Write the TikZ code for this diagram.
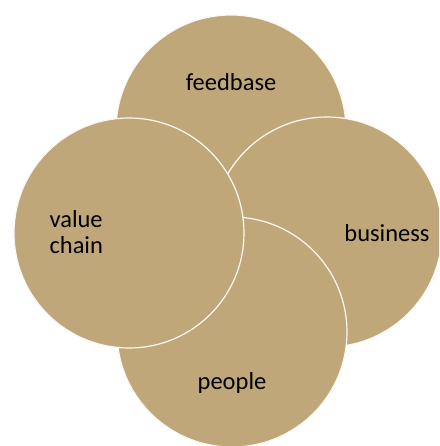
\documentclass[tikz,border=0pt]{standalone}
\usepackage{fontspec}
\setmainfont{Carlito}
\definecolor{tan}{RGB}{191,167,122}
\begin{document}
\begin{tikzpicture}[x=1pt,y=-1pt, every node/.style={font=\fontsize{24.5}{26}\selectfont},
  blob/.style={circle,fill=tan,draw=white!92!tan,line width=1.2pt,minimum size=230pt,inner sep=0}]

\useasboundingbox (0,0) rectangle (439,446);

\clip (0,0) rectangle (439,446);

\node [blob] (feedbase) at (231,130) {};

\node [blob] (business) at (327,232) {};

\node [blob] (people) at (232,332) {};

\node [blob] (valuechain) at (129,233) {};

\node (feedbasetxt) at (231,82) {feedbase};

\node (businesstxt) at (387,233) {business};

\node (peopletxt) at (232,383) {people};

\node [align=left,anchor=west] (valuechaintxt) at (46,232) {value\\chain};

\end{tikzpicture}
\end{document}
